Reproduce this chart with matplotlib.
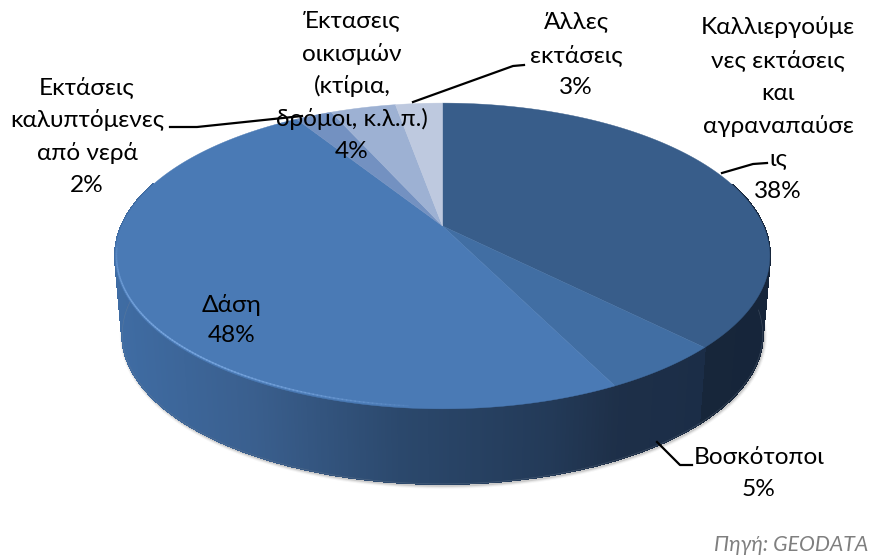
import numpy as np
import matplotlib
matplotlib.use('Agg')
import matplotlib.pyplot as plt

plt.rcParams['font.family'] = ['Lato', 'Noto Sans', 'DejaVu Sans']

# shares, clockwise from 12 o'clock, estimated from the slice boundaries
names = [
    ['Καλλιεργούμε', 'νες εκτάσεις', 'και', 'αγραναπαύσε', 'ις'],
    ['Βοσκότοποι'],
    ['Δάση'],
    ['Εκτάσεις', 'καλυπτόμενες', 'από νερά'],
    ['Έκτασεις', 'οικισμών', '(κτίρια,', 'δρόμοι, κ.λ.π.)'],
    ['Άλλες', 'εκτάσεις'],
]
shares = [37.6, 5.1, 48.4, 2.2, 3.9, 2.8]
source = 'Πηγή: GEODATA'

top_colors = ['#385d8a', '#416ea3', '#4a7ab5', '#7391c1', '#9db1d3', '#bec9df']

# wall shading along x, per slice
wall_x = [[612, 700, 770], [600, 705], [115, 250, 400, 550, 615]]
wall_c = [['#1b2d47', '#17263a', '#16253a'], ['#1e3049', '#1b2d47'],
          ['#3f6ca3', '#3a5f8e', '#2b486c', '#233a58', '#1e3049']]

# label anchors: centre x, y of each line
label_pos = [
    (778, [27, 60, 93, 126, 159, 191]),
    (759, [458, 490]),
    (232, [305, 336]),
    (87, [87, 120, 153, 185]),
    (352, [21, 54, 86, 119, 152]),
    (576, [22, 55, 87]),
]
leaders = [
    ([722, 753, 767], [173, 164, 163]),
    ([657, 680, 692], [442, 465, 465]),
    ([170, 197, 302], [127, 127, 116]),
    ([413, 513, 524], [102, 66, 65]),
]

# perspective of the disc
CX, CY = 442.5, 226
A, B, K = 321, 147, 0.196
A2, B2, CY2 = 314, 143.8, 305


def project(theta, a, b, cy):
    u, v = np.sin(theta), np.cos(theta)
    w = 1 + K * v
    return CX + a * u / w, cy - b * v / w


def shade(x, stops, cols):
    rgb = np.array([matplotlib.colors.to_rgb(c) for c in cols])
    return tuple(np.interp(x, stops, rgb[:, k]) for k in range(3))


fig = plt.figure(figsize=(8.71, 5.57), dpi=100)
ax = fig.add_axes([0, 0, 1, 1])
ax.set_xlim(0, 871)
ax.set_ylim(557, 0)
ax.axis('off')

edges = np.radians(np.cumsum([0] + shares) / sum(shares) * 360)

# shadow below the wall
t = np.linspace(np.radians(92), np.radians(272), 300)
sx, sy = project(t, A2, B2, CY2)
for lw, al in zip([5, 3.5, 2], [0.05, 0.1, 0.18]):
    ax.plot(sx + 1, sy + 1.5, color='#555555', lw=lw, alpha=al, zorder=1)

# side wall as narrow strips, front part only
for i in range(3):
    th = np.linspace(edges[i], edges[i + 1], int(shares[i] * 12) + 2)
    x1, y1 = project(th, A, B, CY)
    x2, y2 = project(th, A2, B2, CY2)
    for j in range(len(th) - 1):
        if np.cos(th[j]) > 0.3:
            continue
        c = shade((x1[j] + x1[j + 1]) / 2, wall_x[i], wall_c[i])
        ax.fill([x1[j], x1[j + 1], x2[j + 1], x2[j]], [y1[j], y1[j + 1], y2[j + 1], y2[j]],
                facecolor=c, edgecolor=c, lw=1.0, antialiased=False, zorder=2)

# smooth the jagged outline of the wall
bx, by = project(np.linspace(np.radians(92), np.radians(272), 400), A2, B2, CY2)
ax.plot(bx, by, color='#7a8694', lw=0.5, alpha=0.35, zorder=2.5)

# top face
for i in range(len(shares)):
    th = np.linspace(edges[i], edges[i + 1], 200)
    x, y = project(th, A, B, CY)
    ax.fill(np.r_[CX, x], np.r_[CY, y], color=top_colors[i], lw=0.3, zorder=3)

# bevel highlight on the front rim, fading to the right
th = np.linspace(np.radians(262), np.radians(185), 120)
xr, yr = project(th, A * 0.996, B * 0.988, CY)
for j in range(len(th) - 1):
    ax.plot(xr[j:j + 2], yr[j:j + 2], color='#7fade6', lw=1.1,
            alpha=0.1 + 0.55 * np.sin(np.pi * (j + 1) / len(th)), zorder=4)

for xs, ys in leaders:
    ax.plot(xs, ys, color='black', lw=1.6, zorder=5, solid_joinstyle='round')

for i, (cx, ys) in enumerate(label_pos):
    lines = names[i] + ['%d%%' % round(shares[i])]
    for line, y in zip(lines, ys):
        ax.text(cx, y, line, ha='center', va='center', fontsize=17.6, color='black', zorder=6)

ax.text(868, 545, source, ha='right', va='center', fontsize=15.3, style='italic', color='#7f7f7f', zorder=6)

fig.savefig('out.png', dpi=100)
